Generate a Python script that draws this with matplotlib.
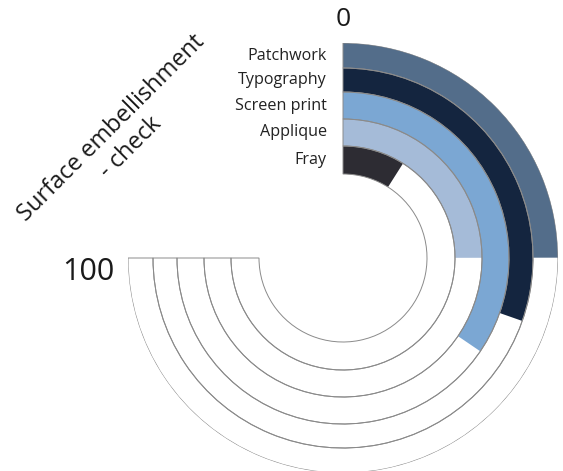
import numpy as np
import matplotlib.pyplot as plt
from matplotlib.transforms import offset_copy

plt.rcParams['font.family'] = ['Open Sans', 'DejaVu Sans']

# Data (outermost ring first), scale 0-100 over a 270 degree sweep
categories = ["Patchwork", "Typography", "Screen print", "Applique", "Fray"]
values = [33.3, 40.5, 46.0, 33.3, 12.0]
colors = ["#536d8a", "#14253f", "#7ba7d3", "#a5bbd8", "#2d2c33"]
title = "Surface embellishment\n- check"
scale_min, scale_max = 0, 100

# ring edges in pixels (outer -> inner)
edges = [215, 190, 166, 139, 112, 84]
sweep = 1.5 * np.pi

W, H = 563, 471
fig = plt.figure(figsize=(W / 100, H / 100), dpi=100)
cx, cy, R = 343, 258, 215
ax = fig.add_axes([(cx - R) / W, (H - cy - R) / H, 2 * R / W, 2 * R / H],
                  projection='polar')
ax.set_theta_zero_location('N')
ax.set_theta_direction(-1)
ax.set_rlim(0, R)
ax.axis('off')

for i, (name, val, col) in enumerate(zip(categories, values, colors)):
    outer, inner = edges[i], edges[i + 1]
    ang = val / scale_max * sweep
    ax.bar(0, outer - inner, width=ang, bottom=inner, align='edge',
           color=col, edgecolor='none', zorder=2)
    # track outline
    ax.bar(0, outer - inner, width=sweep, bottom=inner, align='edge',
           facecolor='none', edgecolor='#8a8a8a', linewidth=0.7, zorder=3)
    lab_tr = offset_copy(ax.transData, fig=fig, x=-16, y=0, units='dots')
    ax.text(0, (outer + inner) / 2, name, transform=lab_tr, ha='right',
            va='center', fontsize=11.6, color='#222222')

ax.text(0, R + 23, str(scale_min), ha='center', va='center', fontsize=19,
        color='#1a1a1a')
fig.text(114 / W, 1 - 272 / H, str(scale_max), ha='right', va='center',
         fontsize=22, color='#1a1a1a')
fig.text(121 / W, 1 - 138 / H, title, ha='center', va='center', rotation=45,
         fontsize=17, color='#1a1a1a', linespacing=1.25,
         rotation_mode='anchor')

fig.savefig('out.png', dpi=100)
